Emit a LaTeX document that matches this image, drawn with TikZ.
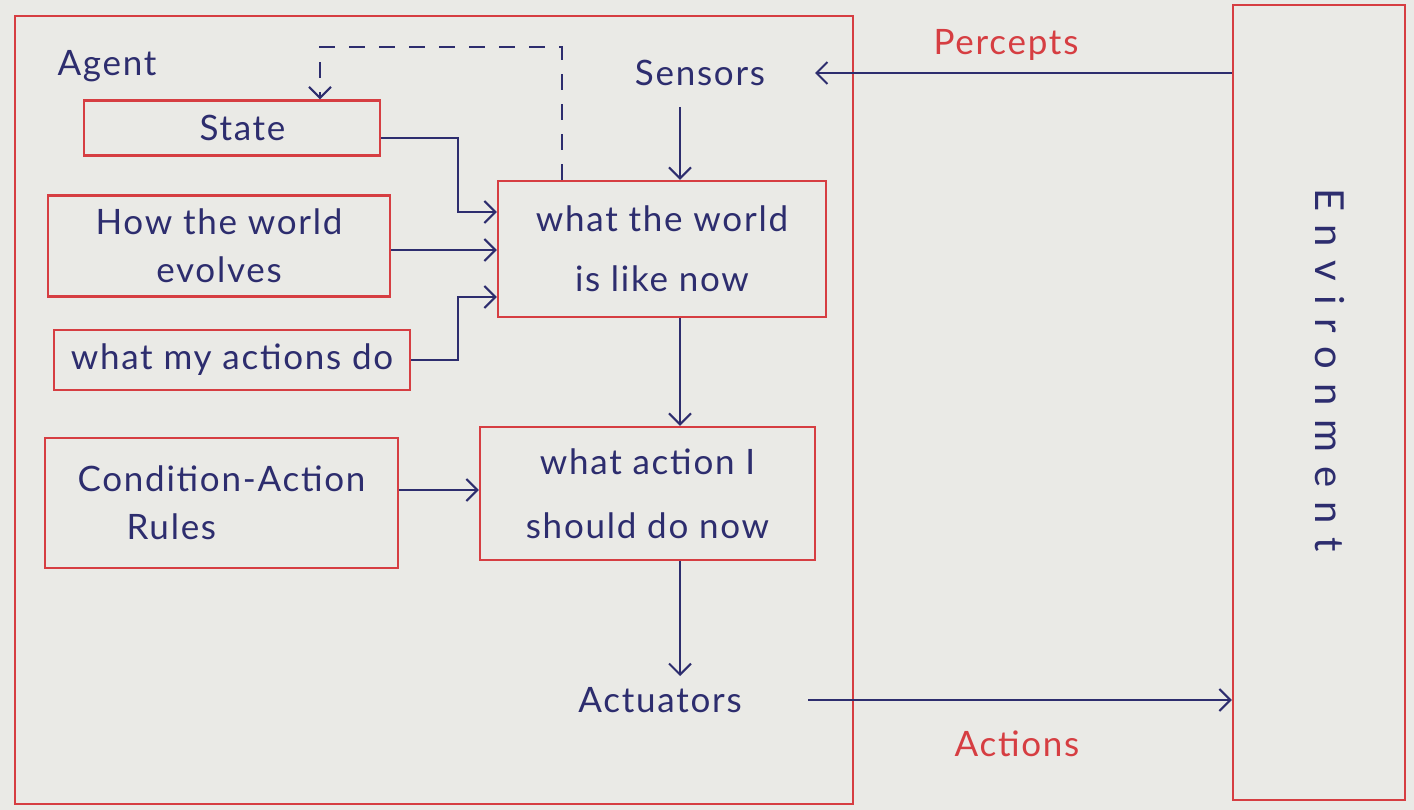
\documentclass[tikz,border=0pt]{standalone}
\usepackage{fontspec}
\setmainfont{Lato}[LetterSpace=5]
\newfontfamily\envfont{Lato}[LetterSpace=35]
\usetikzlibrary{arrows.meta}
\definecolor{boxred}{RGB}{214,62,66}
\definecolor{ink}{RGB}{45,45,110}
\definecolor{paper}{RGB}{234,234,230}
\begin{document}
\begin{tikzpicture}[x=1pt,y=-1pt,
  box/.style={draw=boxred, line width=2.4pt, rectangle, inner sep=0pt, text=ink, align=center, font=\fontsize{35}{56}\selectfont},
  lbl/.style={font=\fontsize{35}{40}\selectfont, text=ink, inner sep=0pt},
  redlbl/.style={font=\fontsize{35}{40}\selectfont, text=boxred, inner sep=0pt},
  conn/.style={draw=ink, line width=2pt, -{Straight Barb[length=11pt,width=22pt,line width=2pt]}},
  dconn/.style={conn, dash pattern=on 16pt off 14pt}
]
\fill[paper] (0,0) rectangle (1414,810);
\useasboundingbox (0,0) rectangle (1414,810);

% outer boxes
\node[box, minimum width=838pt, minimum height=788pt] (agent) at (434,410) {};
\node[box, minimum width=172pt, minimum height=795pt] (env) at (1319,402.5) {};
\node[lbl, rotate=-90, font=\envfont\fontsize{40}{44}\selectfont] (envt) at (1330,370) {Environment};

% labels
\node[lbl] (agentl) at (107,66) {Agent};
\node[lbl] (sens) at (700,73) {Sensors};
\node[lbl] (actu) at (660,700) {Actuators};
\node[redlbl] (perc) at (1006,45) {Percepts};
\node[redlbl] (actl) at (1017,744) {Actions};

% inner boxes
\node[box, minimum width=296pt, minimum height=55pt] (state) at (232,128) {\hspace{0.6em}State};
\node[box, minimum width=342pt, minimum height=101pt, font=\fontsize{35}{48}\selectfont] (evol) at (219,246) {How the world\\evolves};
\node[box, minimum width=356pt, minimum height=60pt] (myact) at (232,360) {what my actions do};
\node[box, minimum width=353pt, minimum height=130pt, align=left, font=\fontsize{35}{48}\selectfont] (rules) at (221.5,503) {Condition-Action\\\hspace{1.4em}Rules};
\node[box, minimum width=328pt, minimum height=136pt, font=\fontsize{35}{60}\selectfont] (ww) at (662,249) {what the world\\is like now};
\node[box, minimum width=335pt, minimum height=133pt, font=\fontsize{35}{64}\selectfont] (act) at (647.5,493.5) {what action I\\should do now};

% connectors
\draw[conn] (env.west |- 0,73) -- (815,73);
\draw[conn] (680,107) -- (ww.north -| 680,0);
\draw[conn] ([yshift=-10pt]state.east) -| (458,212) -- (ww.west |- 458,212);
\draw[conn] (evol.east |- 0,250) -- (ww.west |- 0,250);
\draw[conn] (myact.east) -| (458,297) -- (ww.west |- 458,297);
\draw[dconn] (ww.north -| 562,0) -- (562,47) -- (320,47) -- (state.north -| 320,0);
\draw[conn] (ww.south -| 680,0) -- (act.north -| 680,0);
\draw[conn] (rules.east |- 0,490) -- (act.west |- 0,490);
\draw[conn] (act.south -| 680,0) -- (680,676);
\draw[conn] (808,700) -- (env.west |- 0,700);
\end{tikzpicture}
\end{document}
